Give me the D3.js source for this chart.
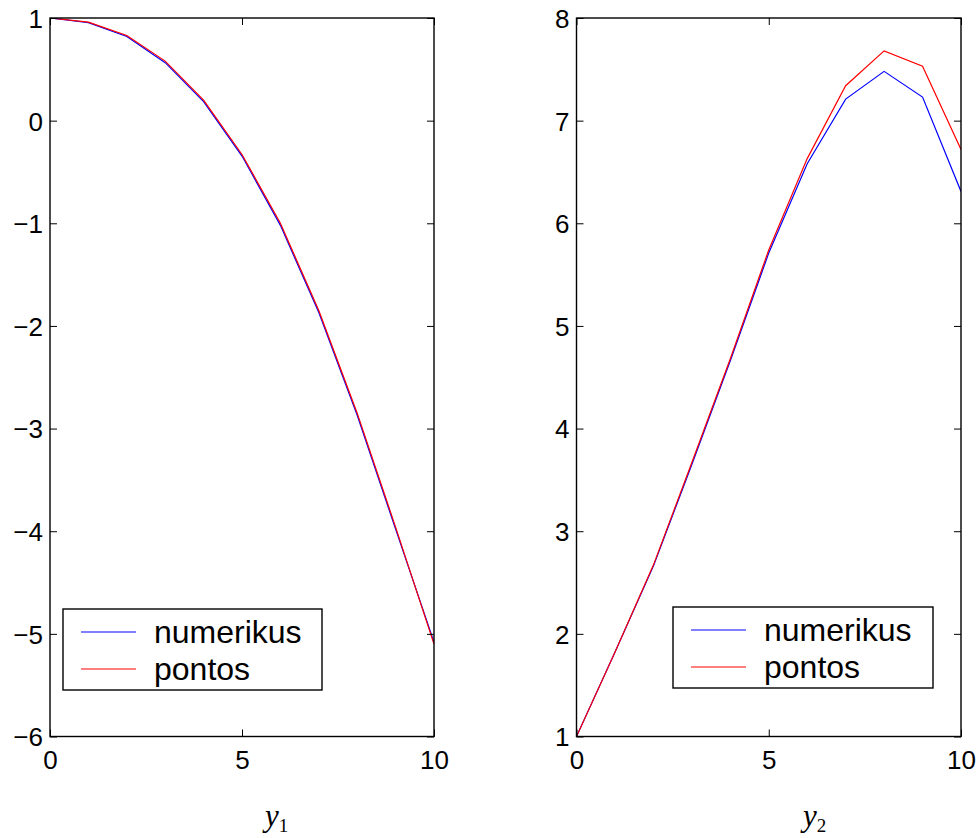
<!DOCTYPE html>
<html>
<head>
<meta charset="utf-8">
<script src="https://cdn.jsdelivr.net/npm/d3@7"></script>
<style>
  html, body { margin: 0; padding: 0; background: #fff; }
  svg { display: block; }
  .tick text { font-family: "Liberation Sans", Arial, sans-serif; }
</style>
</head>
<body>
<svg id="chart" width="978" height="838"></svg>
<script>
// Step index shared by both components
const steps = [0, 1, 2, 3, 4, 5, 6, 7, 8, 9, 10];

// y1 component: numerical solution vs exact solution
const y1Numerikus = [1, 0.955, 0.82, 0.565, 0.185, -0.345, -1.02, -1.87, -2.87, -3.98, -5.08];
const y1Pontos    = [1, 0.96, 0.83, 0.58, 0.2, -0.33, -1.0, -1.85, -2.85, -3.96, -5.1];

// y2 component: numerical solution vs exact solution
const y2Numerikus = [1, 1.82, 2.66, 3.65, 4.66, 5.71, 6.58, 7.21, 7.48, 7.23, 6.31];
const y2Pontos    = [1, 1.82, 2.67, 3.67, 4.68, 5.74, 6.63, 7.34, 7.68, 7.53, 6.72];

// Tick values
const xTicks  = [0, 5, 10];
const y1Ticks = [-6, -5, -4, -3, -2, -1, 0, 1];
const y2Ticks = [1, 2, 3, 4, 5, 6, 7, 8];

const seriesNames  = ["numerikus", "pontos"];
const seriesColors = ["#0000ff", "#ff0000"];

const svg = d3.select("#chart");
const TICK = 7;

function drawPanel(cfg) {
  const x = d3.scaleLinear().domain([0, 10]).range([cfg.left, cfg.right]);
  const y = d3.scaleLinear().domain(cfg.yDomain).range([cfg.bottom, cfg.top]);
  const g = svg.append("g");

  // curves, clipped to the plot box
  const clipId = "clip-" + cfg.name;
  svg.append("clipPath").attr("id", clipId)
    .append("rect")
    .attr("x", cfg.left).attr("y", cfg.top)
    .attr("width", cfg.right - cfg.left).attr("height", cfg.bottom - cfg.top);

  const line = d3.line().x((d, i) => x(steps[i])).y(d => y(d));
  const curves = g.append("g").attr("clip-path", `url(#${clipId})`);
  cfg.series.forEach((s, k) => {
    curves.append("path")
      .datum(s)
      .attr("d", line)
      .attr("fill", "none")
      .attr("stroke", seriesColors[k])
      .attr("stroke-width", 1.2)
      .attr("stroke-linejoin", "miter");
  });

  // axes with inward ticks on all four sides
  const axisStyle = sel => {
    sel.select(".domain").remove();
    sel.selectAll(".tick line").attr("stroke", "#000").attr("stroke-width", 1);
  };

  const bottom = g.append("g")
    .attr("transform", `translate(0,${cfg.bottom})`)
    .call(d3.axisBottom(x).tickValues(xTicks).tickSize(-TICK).tickPadding(0).tickFormat(d3.format("d")))
    .call(axisStyle);
  bottom.selectAll(".tick text")
    .attr("y", 32).attr("dy", null)
    .attr("font-size", 26).attr("fill", "#000");

  g.append("g")
    .attr("transform", `translate(0,${cfg.top})`)
    .call(d3.axisTop(x).tickValues(xTicks).tickSize(-TICK).tickFormat(""))
    .call(axisStyle);

  const leftAx = g.append("g")
    .attr("transform", `translate(${cfg.left},0)`)
    .call(d3.axisLeft(y).tickValues(cfg.yTicks).tickSize(-TICK).tickPadding(0).tickFormat(d3.format("d")))
    .call(axisStyle);
  leftAx.selectAll(".tick text")
    .attr("x", -7).attr("dy", "0.36em")
    .attr("font-size", 26).attr("fill", "#000");

  g.append("g")
    .attr("transform", `translate(${cfg.right},0)`)
    .call(d3.axisRight(y).tickValues(cfg.yTicks).tickSize(-TICK).tickFormat(""))
    .call(axisStyle);

  // frame
  g.append("rect")
    .attr("x", cfg.left).attr("y", cfg.top)
    .attr("width", cfg.right - cfg.left).attr("height", cfg.bottom - cfg.top)
    .attr("fill", "none").attr("stroke", "#000").attr("stroke-width", 1.4);

  // legend
  const L = cfg.legend;
  const lg = g.append("g").attr("transform", `translate(${L.x},${L.y})`);
  lg.append("rect")
    .attr("width", L.w).attr("height", L.h)
    .attr("fill", "#fff").attr("stroke", "#000").attr("stroke-width", 1.4);
  seriesNames.forEach((name, k) => {
    const cy = 23 + k * 37;
    lg.append("line")
      .attr("x1", 18).attr("x2", 73).attr("y1", cy).attr("y2", cy)
      .attr("stroke", seriesColors[k]).attr("stroke-width", 1.2);
    lg.append("text")
      .attr("x", 91).attr("y", cy + 11)
      .attr("font-family", "Liberation Sans, Arial, sans-serif")
      .attr("font-size", 32).attr("fill", "#000")
      .text(name);
  });

  // axis label: italic y with upright subscript
  const lab = g.append("text")
    .attr("x", cfg.labelX).attr("y", 826)
    .attr("font-family", "Liberation Serif, Times New Roman, serif")
    .attr("fill", "#000");
  lab.append("tspan").attr("font-style", "italic").attr("font-size", 31).text("y");
  lab.append("tspan").attr("font-size", 19).attr("dy", 6).text(cfg.sub);
}

drawPanel({
  name: "y1", left: 50, right: 434, top: 18, bottom: 736.5,
  yDomain: [-6, 1], yTicks: y1Ticks,
  series: [y1Numerikus, y1Pontos],
  legend: { x: 63, y: 609, w: 259, h: 81 },
  labelX: 265, sub: "1"
});

drawPanel({
  name: "y2", left: 576.5, right: 961, top: 18, bottom: 736.5,
  yDomain: [1, 8], yTicks: y2Ticks,
  series: [y2Numerikus, y2Pontos],
  legend: { x: 673, y: 607, w: 260, h: 81 },
  labelX: 803, sub: "2"
});
</script>
</body>
</html>
